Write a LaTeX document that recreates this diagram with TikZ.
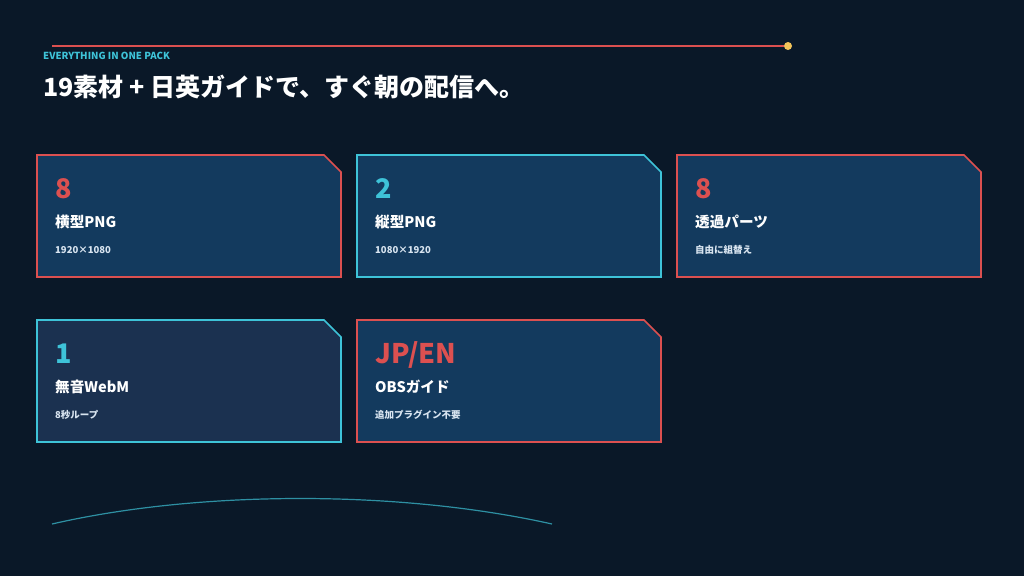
\documentclass[tikz,border=0pt]{standalone}
\usepackage{fontspec}
\setmainfont{Noto Sans CJK JP}
\definecolor{bg}{HTML}{0A1828}
\definecolor{rd}{HTML}{DC5050}
\definecolor{tl}{HTML}{3EC3D8}
\definecolor{cf}{HTML}{133A5E}
\definecolor{cf2}{HTML}{1B3150}
\definecolor{yl}{HTML}{F2C45A}
\definecolor{sub}{HTML}{D8E4F0}
\begin{document}
\begin{tikzpicture}[x=1pt,y=-1pt,
  card/.style={line width=1.6pt},
  num/.style={anchor=base west,font=\fontsize{27}{30}\selectfont\bfseries},
  lab/.style={anchor=base west,text=white,font=\fontsize{14.6}{16}\selectfont\bfseries},
  sm/.style={anchor=base west,text=sub,font=\fontsize{9.5}{11}\selectfont\bfseries}]
\fill[bg] (0,0) rectangle (1024,576);
\useasboundingbox (0,0) rectangle (1024,576);
\coordinate (ls) at (52,46);
\node[circle,fill=yl,inner sep=0,minimum size=8pt] (dot) at (788,46) {};
\draw[rd,line width=1.6pt] (ls) -- (dot);
\node[anchor=base west,text=tl,font=\fontsize{9.7}{10}\selectfont\bfseries,inner sep=0] (eyebrow) at (43,59) {EVERYTHING IN ONE PACK};
\node[anchor=base west,text=white,font=\fontsize{25}{28}\selectfont\bfseries,inner sep=0] (title) at (43,96) {19素材 + 日英ガイドで、すぐ朝の配信へ。};
\newcommand\mycard[8]{%
  \draw[card,draw=#3,fill=#4] (#1,#2) -- ++(287,0) -- ++(17,17) -- ++(0,105) -- ++(-304,0) -- cycle;
  \node[num,text=#3,inner sep=0] (#8n) at (#1+18,#2+43) {#5};
  \node[lab,inner sep=0] (#8l) at (#1+18,#2+72) {#6};
  \node[sm,inner sep=0] (#8s) at (#1+18,#2+98) {#7};}
\mycard{37}{155}{rd}{cf}{8}{横型PNG}{1920×1080}{a}
\mycard{357}{155}{tl}{cf}{2}{縦型PNG}{1080×1920}{b}
\mycard{677}{155}{rd}{cf}{8}{透過パーツ}{自由に組替え}{c}
\mycard{37}{320}{tl}{cf2}{1}{無音WebM}{8秒ループ}{d}
\mycard{357}{320}{rd}{cf}{JP/EN}{OBSガイド}{追加プラグイン不要}{e}
\coordinate (al) at (52,524);
\coordinate (ar) at (552,524);
\draw[tl!70!bg,line width=1.2pt] (al) .. controls (200,490) and (400,490) .. (ar);
\end{tikzpicture}
\end{document}
